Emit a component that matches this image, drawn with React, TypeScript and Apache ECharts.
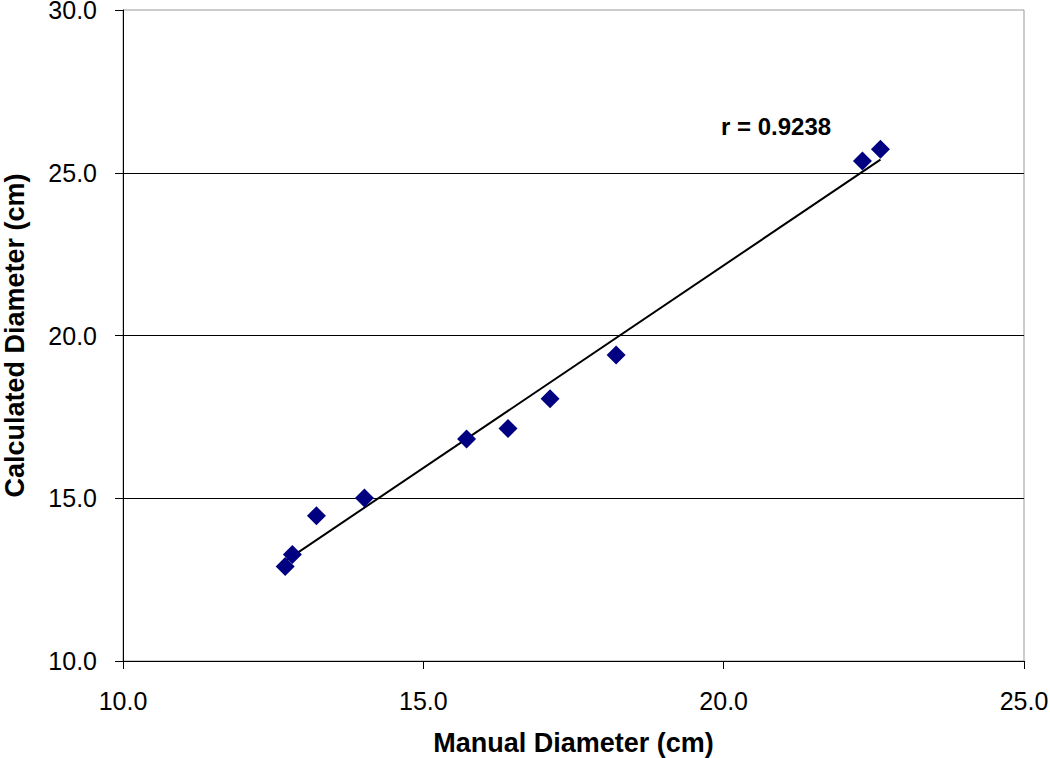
import React, { useEffect, useRef } from "react";
import * as echarts from "echarts";

const manualDiameter = [12.70, 12.82, 13.22, 14.02, 15.72, 16.41, 17.11, 18.21, 22.31, 22.61];
const calculatedDiameter = [12.90, 13.27, 14.46, 15.01, 16.82, 17.14, 18.06, 19.40, 25.36, 25.72];
const xTicks = { min: 10, max: 25, interval: 5 };
const yTicks = { min: 10, max: 30, interval: 5 };
const xTitle = "Manual Diameter (cm)";
const yTitle = "Calculated Diameter (cm)";
const annotation = "r = 0.9238";

function fitLine(xs: number[], ys: number[]) {
  const n = xs.length;
  const mx = xs.reduce((a, b) => a + b, 0) / n;
  const my = ys.reduce((a, b) => a + b, 0) / n;
  let sxy = 0;
  let sxx = 0;
  for (let i = 0; i < n; i++) {
    sxy += (xs[i] - mx) * (ys[i] - my);
    sxx += (xs[i] - mx) * (xs[i] - mx);
  }
  const slope = sxy / sxx;
  const intercept = my - slope * mx;
  const x0 = Math.min(...xs);
  const x1 = Math.max(...xs);
  return [
    [x0, slope * x0 + intercept],
    [x1, slope * x1 + intercept],
  ];
}

export default function App() {
  const ref = useRef<HTMLDivElement>(null);
  useEffect(() => {
    if (!ref.current) return;
    const chart = echarts.init(ref.current, null, { renderer: "svg" });
    const font = "'Liberation Sans', Arial, sans-serif";
    const points = manualDiameter.map((x, i) => [x, calculatedDiameter[i]]);
    chart.setOption({
      animation: false,
      backgroundColor: "#ffffff",
      grid: {
        left: 123,
        right: 26,
        top: 10,
        bottom: 97,
        containLabel: false,
        outerBoundsMode: "none",
        show: true,
        borderColor: "#999999",
        borderWidth: 1,
        backgroundColor: "transparent",
      },
      xAxis: {
        type: "value",
        min: xTicks.min,
        max: xTicks.max,
        interval: xTicks.interval,
        name: xTitle,
        nameLocation: "middle",
        nameGap: 68,
        nameTextStyle: { fontFamily: font, fontSize: 27, fontWeight: "bold", color: "#000" },
        axisLine: { show: true, onZero: false, lineStyle: { color: "#000", width: 1 } },
        axisTick: { show: true, inside: false, length: 8, lineStyle: { color: "#000" } },
        axisLabel: {
          fontFamily: font,
          fontSize: 25,
          color: "#000",
          margin: 27,
          formatter: (v: number) => v.toFixed(1),
        },
        splitLine: { show: false },
      },
      yAxis: {
        type: "value",
        min: yTicks.min,
        max: yTicks.max,
        interval: yTicks.interval,
        name: yTitle,
        nameLocation: "middle",
        nameGap: 95,
        nameRotate: 90,
        nameTextStyle: { fontFamily: font, fontSize: 27, fontWeight: "bold", color: "#000" },
        axisLine: { show: true, onZero: false, lineStyle: { color: "#000", width: 1 } },
        axisTick: { show: true, inside: false, length: 8, lineStyle: { color: "#000" } },
        axisLabel: {
          fontFamily: font,
          fontSize: 25,
          lineHeight: 20,
          color: "#000",
          margin: 26,
          formatter: (v: number) => v.toFixed(1),
        },
        splitLine: {
          show: true,
          showMinLine: false,
          showMaxLine: false,
          lineStyle: { color: "#000", width: 1 },
        },
      },
      graphic: [
        {
          type: "text",
          left: 721,
          top: 114,
          style: {
            text: annotation,
            fontFamily: font,
            fontSize: 24,
            fontWeight: "bold",
            fill: "#000",
          },
        },
      ],
      series: [
        {
          type: "line",
          data: fitLine(manualDiameter, calculatedDiameter),
          showSymbol: false,
          symbol: "none",
          lineStyle: { color: "#000", width: 2 },
          silent: true,
          z: 2,
        },
        {
          type: "scatter",
          data: points,
          symbol: "diamond",
          symbolSize: 19,
          itemStyle: { color: "#000080", opacity: 1 },
          z: 3,
        },
      ],
    });
    return () => chart.dispose();
  }, []);
  return (
    <div
      ref={ref}
      style={{ position: "absolute", left: 0, top: 0, width: 1050, height: 758 }}
    />
  );
}
